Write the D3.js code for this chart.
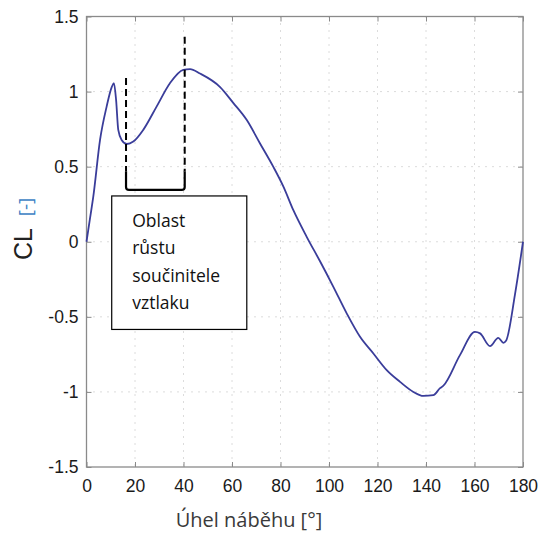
<!DOCTYPE html>
<html>
<head>
<meta charset="utf-8">
<script src="https://cdn.jsdelivr.net/npm/d3@7"></script>
<style>
  body { margin: 0; background: #fff; }
  svg { display: block; }
</style>
</head>
<body>
<svg id="plot"></svg>
<script>
// angle of attack [deg] and lift coefficient
const angle = [0, 1.4, 2.8, 5.6, 8.3, 10.4, 11.3, 12.2, 13.1, 14.5, 16.6, 19.3, 23.4, 28.9, 34.4, 39.9, 42.7, 46.8,
  55.1, 60.5, 66.1, 71.5, 77, 81.2, 85.3, 90.8, 96.3, 101.8, 107.3, 112.8, 118.3, 123.8, 129.3, 134.8, 138.9,
  143, 145.8, 147.1, 154, 160.2, 162.3, 166.4, 169.8, 171.9, 173, 176.7, 180];
const cl = [0, 0.15, 0.30, 0.68, 0.90, 1.03, 1.056, 0.945, 0.745, 0.678, 0.651, 0.667, 0.745, 0.90, 1.056, 1.145, 1.15, 1.12,
  1.03, 0.925, 0.81, 0.656, 0.5, 0.367, 0.21, 0.033, -0.13, -0.30, -0.477, -0.633, -0.744, -0.855, -0.933, -1.0, -1.027,
  -1.022, -0.975, -0.96, -0.755, -0.60, -0.61, -0.695, -0.64, -0.673, -0.66, -0.35, 0];

const xTicks = [0, 20, 40, 60, 80, 100, 120, 140, 160, 180];
const yTicks = [-1.5, -1, -0.5, 0, 0.5, 1, 1.5];

// region of lift growth (annotation)
const regionStart = 16.3, regionEnd = 40.5;
const regionTops = [1.09, 1.365];
const regionSolidTop = 0.47, regionBase = 0.345;
const noteLines = ["Oblast", "růstu", "součinitele", "vztlaku"];
const noteBox = { x0: 10.4, x1: 66.1, y0: 0.305, y1: -0.584 };

const W = 538, H = 533;
const margin = { top: 16.5, right: 15, bottom: 66, left: 86.5 },
  width = W - margin.left - margin.right,
  height = H - margin.top - margin.bottom;

const svg = d3.select("#plot").attr("width", W).attr("height", H);
const g = svg.append("g").attr("transform", `translate(${margin.left},${margin.top})`);

const x = d3.scaleLinear().domain([0, 180]).range([0, width]);
const y = d3.scaleLinear().domain([-1.5, 1.5]).range([height, 0]);

// dotted grid
g.append("g").selectAll("line").data(xTicks.slice(1, -1)).join("line")
  .attr("x1", d => x(d)).attr("x2", d => x(d)).attr("y1", 0).attr("y2", height)
  .attr("stroke", "#b8b8b8").attr("stroke-dasharray", "1,6");
g.append("g").selectAll("line").data(yTicks.slice(1, -1)).join("line")
  .attr("y1", d => y(d)).attr("y2", d => y(d)).attr("x1", 0).attr("x2", width)
  .attr("stroke", "#b8b8b8").attr("stroke-dasharray", "1,6");

// axes with inward ticks
function styleAxis(sel) {
  sel.select(".domain").remove();
  sel.selectAll(".tick line").attr("stroke", "#8a8a8a");
  sel.selectAll(".tick text").attr("fill", "#1a1a1a")
    .style("font-family", "'Liberation Sans', Arial, sans-serif").style("font-size", "17.5px");
}
g.append("g").attr("transform", `translate(0,${height})`)
  .call(d3.axisBottom(x).tickValues(xTicks).tickSizeInner(-5).tickPadding(13).tickSizeOuter(0))
  .call(styleAxis);
g.append("g")
  .call(d3.axisLeft(y).tickValues(yTicks).tickFormat(d => String(d)).tickSizeInner(-5).tickPadding(8).tickSizeOuter(0))
  .call(styleAxis);
g.append("g")
  .call(d3.axisTop(x).tickValues(xTicks).tickSizeInner(-5).tickFormat("").tickSizeOuter(0))
  .call(styleAxis);
g.append("g").attr("transform", `translate(${width},0)`)
  .call(d3.axisRight(y).tickValues(yTicks).tickSizeInner(-5).tickFormat("").tickSizeOuter(0))
  .call(styleAxis);

g.append("rect").attr("width", width).attr("height", height)
  .attr("fill", "none").attr("stroke", "#8a8a8a").attr("stroke-width", 1.3);

// CL curve
const data = angle.map((a, i) => ({ a: a, c: cl[i] }));
g.append("path").datum(data)
  .attr("fill", "none").attr("stroke", "#3a3d9a").attr("stroke-width", 1.8)
  .attr("d", d3.line().x(d => x(d.a)).y(d => y(d.c)).curve(d3.curveMonotoneX));

// annotation: dashed verticals + bracket
[regionStart, regionEnd].forEach((a, i) => {
  g.append("line")
    .attr("x1", x(a)).attr("x2", x(a)).attr("y1", y(regionTops[i])).attr("y2", y(regionSolidTop))
    .attr("stroke", "#000").attr("stroke-width", 2).attr("stroke-dasharray", "7,4");
});
const r = 3;
g.append("path")
  .attr("fill", "none").attr("stroke", "#000").attr("stroke-width", 2.2)
  .attr("d", `M${x(regionStart)},${y(regionSolidTop)} V${y(regionBase) - r} Q${x(regionStart)},${y(regionBase)} ${x(regionStart) + r},${y(regionBase)}`
    + ` H${x(regionEnd) - r} Q${x(regionEnd)},${y(regionBase)} ${x(regionEnd)},${y(regionBase) - r} V${y(regionSolidTop)}`);

g.append("rect")
  .attr("x", x(noteBox.x0)).attr("y", y(noteBox.y0))
  .attr("width", x(noteBox.x1) - x(noteBox.x0)).attr("height", y(noteBox.y1) - y(noteBox.y0))
  .attr("fill", "#fff").attr("stroke", "#000").attr("stroke-width", 1.2);
g.append("g").selectAll("text").data(noteLines).join("text")
  .attr("x", x(noteBox.x0) + 20.5)
  .attr("y", (d, i) => y(noteBox.y0) + 31 + i * 27.3)
  .attr("fill", "#111")
  .style("font-family", "'Open Sans', sans-serif").style("font-size", "17.5px")
  .text(d => d);

// axis titles
svg.append("text")
  .attr("x", 249).attr("y", 527).attr("text-anchor", "middle")
  .attr("fill", "#3a3a3a")
  .style("font-family", "'Open Sans', sans-serif").style("font-size", "20px")
  .text("Úhel náběhu [°]");

svg.append("text")
  .attr("transform", "translate(32,244) rotate(-90)")
  .attr("text-anchor", "middle")
  .attr("fill", "#222").style("font-family", "'Liberation Sans', Arial, sans-serif").style("font-size", "25px")
  .text("CL");
svg.append("text")
  .attr("transform", "translate(32,207) rotate(-90)")
  .attr("text-anchor", "middle")
  .attr("fill", "#3d7fc4").style("font-family", "'Open Sans', sans-serif").style("font-size", "19px")
  .text("[-]");
</script>
</body>
</html>
